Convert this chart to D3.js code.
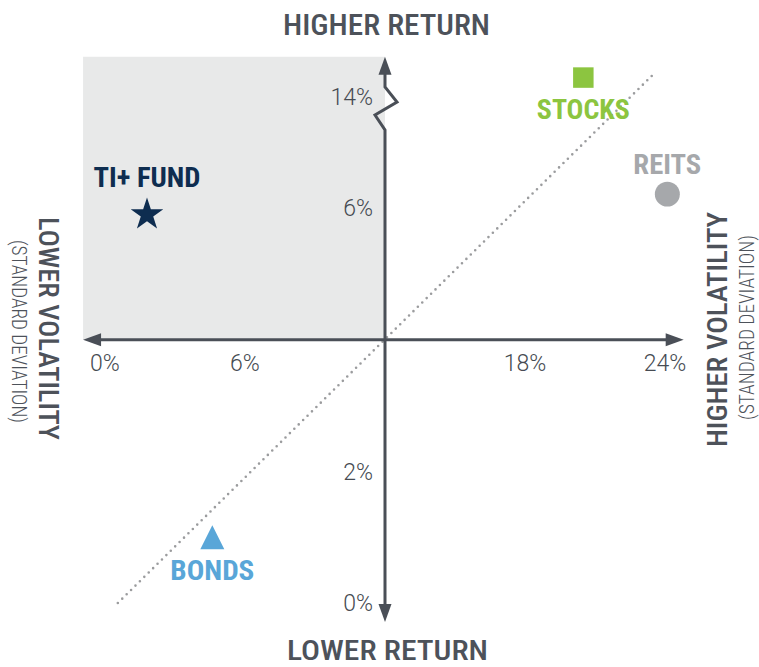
<!DOCTYPE html>
<html>
<head>
<meta charset="utf-8">
<script src="https://cdn.jsdelivr.net/npm/d3@7"></script>
<style>
  body { margin: 0; background: #fff; }
  svg { display: block; }
</style>
</head>
<body>
<div id="chart"></div>
<script>
// data
const assets = ['TI+ FUND', 'STOCKS', 'REITS', 'BONDS'];
const volatility = [1.8, 20.5, 24.1, 4.6];   // standard deviation, %
const returns = [5.9, 15.4, 7.0, 1.0];       // return, %
const xTicks = [0, 6, 18, 24];
const yTicks = [0, 2, 6, 14];
const axisCross = [12, 4];                   // where the two axes meet (vol, return)
const xExtent = [-0.94, 24.8];
const yExtent = [-0.29, 16.9];
const trend = [[0.55, 0], [23.6, 15.8]];

const width = 759;
const height = 667;
const axisColor = '#4a4f57';
const textColor = '#4d525a';
const condensed = "'Roboto Condensed','Liberation Sans Narrow','Arial Narrow',Roboto,sans-serif";

// look of each asset
const styles = {
    'TI+ FUND': { color: '#0e2d50', shape: 'star', dy: -28, len: 107 },
    'STOCKS':   { color: '#8cc540', shape: 'square', dy: 41, len: 93 },
    'REITS':    { color: '#a6a8ab', shape: 'circle', dy: -20, len: 68 },
    'BONDS':    { color: '#59a6d8', shape: 'triangle', dy: 43, len: 84 }
};

const svg = d3.select('#chart')
    .append('svg')
    .attr('width', width)
    .attr('height', height);

// scales: y axis is broken above 6%
const x = d3.scaleLinear().domain([0, 24]).range([105, 665]);
const y = d3.scaleLinear().domain([0, 6, 14]).range([603, 208, 97]);

const x0 = x(axisCross[0]);
const y0 = y(axisCross[1]);

// shaded quadrant
svg.append('rect')
    .attr('x', x(xExtent[0]))
    .attr('y', y(yExtent[1]))
    .attr('width', x0 - x(xExtent[0]))
    .attr('height', y0 - y(yExtent[1]))
    .attr('fill', '#e8e9e9');

// dotted diagonal
svg.append('line')
    .attr('x1', x(trend[0][0])).attr('y1', y(trend[0][1]))
    .attr('x2', x(trend[1][0])).attr('y2', y(trend[1][1]))
    .attr('stroke', '#9b9c9e')
    .attr('stroke-width', 2.6)
    .attr('stroke-linecap', 'round')
    .attr('stroke-dasharray', '0 6.2');

// axes
const head = 18, half = 6.5;
const xl = x(xExtent[0]), xr = x(xExtent[1]);
const yt = y(yExtent[1]), yb = y(yExtent[0]);
const yBreak = y(14);

svg.append('line')
    .attr('x1', xl + head - 2).attr('x2', xr - head + 2)
    .attr('y1', y0).attr('y2', y0)
    .attr('stroke', axisColor).attr('stroke-width', 3);

// vertical axis with zig-zag break
const vPath = d3.path();
vPath.moveTo(x0, yb - head + 2);
vPath.lineTo(x0, yBreak + 33);
vPath.lineTo(x0 - 10, yBreak + 18);
vPath.lineTo(x0 + 12, yBreak + 5);
vPath.lineTo(x0, yBreak - 10);
vPath.lineTo(x0, yt + head - 2);
svg.append('path')
    .attr('d', vPath.toString())
    .attr('fill', 'none')
    .attr('stroke', axisColor)
    .attr('stroke-width', 3)
    .attr('stroke-linejoin', 'miter');

const arrows = [
    [[xl, y0], [xl + head, y0 - half], [xl + head, y0 + half]],
    [[xr, y0], [xr - head, y0 - half], [xr - head, y0 + half]],
    [[x0, yt], [x0 - half, yt + head], [x0 + half, yt + head]],
    [[x0, yb], [x0 - half, yb - head], [x0 + half, yb - head]]
];
svg.selectAll('path.arrow')
    .data(arrows)
    .enter()
    .append('path')
    .attr('class', 'arrow')
    .attr('d', d => 'M' + d.join('L') + 'Z')
    .attr('fill', axisColor);

// tick labels
svg.selectAll('text.xtick')
    .data(xTicks)
    .enter()
    .append('text')
    .attr('class', 'xtick')
    .attr('x', d => x(d))
    .attr('y', y0 + 31)
    .attr('text-anchor', 'middle')
    .attr('font-family', 'Roboto, sans-serif')
    .attr('font-weight', 300)
    .attr('font-size', 23)
    .attr('fill', '#464b52')
    .text(d => d + '%');

svg.selectAll('text.ytick')
    .data(yTicks)
    .enter()
    .append('text')
    .attr('class', 'ytick')
    .attr('x', x0 - 12)
    .attr('y', d => y(d))
    .attr('dy', '0.36em')
    .attr('text-anchor', 'end')
    .attr('font-family', 'Roboto, sans-serif')
    .attr('font-weight', 300)
    .attr('font-size', 23)
    .attr('fill', '#464b52')
    .text(d => d + '%');

// axis titles
const titles = [
    { text: 'HIGHER RETURN', tx: 386.5, ty: 35, rot: 0, size: 29, weight: 500, len: 207 },
    { text: 'LOWER RETURN', tx: 387.5, ty: 660, rot: 0, size: 28, weight: 500, len: 201 },
    { text: 'LOWER VOLATILITY', tx: 39, ty: 328.5, rot: 90, size: 28, weight: 500, len: 223 },
    { text: '(STANDARD DEVIATION)', tx: 12, ty: 331.5, rot: 90, size: 20, weight: 300, len: 183 },
    { text: 'HIGHER VOLATILITY', tx: 727, ty: 329.5, rot: -90, size: 28, weight: 500, len: 235 },
    { text: '(STANDARD DEVIATION)', tx: 754, ty: 327.5, rot: -90, size: 20, weight: 300, len: 185 }
];
svg.selectAll('text.title')
    .data(titles)
    .enter()
    .append('text')
    .attr('class', 'title')
    .attr('transform', d => `translate(${d.tx},${d.ty}) rotate(${d.rot})`)
    .attr('text-anchor', 'middle')
    .attr('font-family', condensed)
    .attr('font-weight', d => d.weight)
    .attr('font-size', d => d.size)
    .attr('fill', textColor)
    .attr('textLength', d => d.len)
    .attr('lengthAdjust', 'spacingAndGlyphs')
    .text(d => d.text);

// markers
const shapes = {
    star: d3.symbol(d3.symbolStar, 330)(),
    square: d3.symbol(d3.symbolSquare, 420)(),
    circle: d3.symbol(d3.symbolCircle, 490)(),
    triangle: 'M0,-12L12,12L-12,12Z'
};

const points = assets.map((name, i) => ({ name, vol: volatility[i], ret: returns[i] }));

svg.selectAll('path.marker')
    .data(points)
    .enter()
    .append('path')
    .attr('class', 'marker')
    .attr('transform', d => `translate(${x(d.vol)},${y(d.ret)})`)
    .attr('d', d => shapes[styles[d.name].shape])
    .attr('fill', d => styles[d.name].color);

svg.selectAll('text.label')
    .data(points)
    .enter()
    .append('text')
    .attr('class', 'label')
    .attr('x', d => x(d.vol))
    .attr('y', d => y(d.ret) + styles[d.name].dy)
    .attr('text-anchor', 'middle')
    .attr('font-family', condensed)
    .attr('font-weight', 700)
    .attr('font-size', 27)
    .attr('fill', d => styles[d.name].color)
    .attr('textLength', d => styles[d.name].len)
    .attr('lengthAdjust', 'spacingAndGlyphs')
    .text(d => d.name);
</script>
</body>
</html>
